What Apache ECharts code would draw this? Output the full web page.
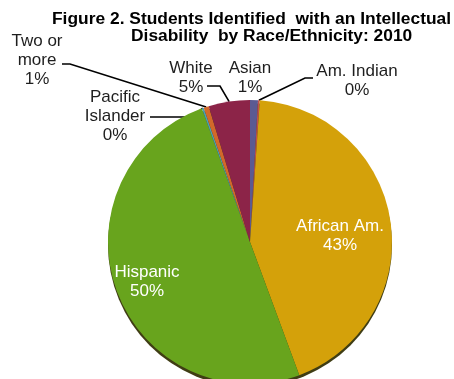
<!DOCTYPE html>
<html>
<head>
<meta charset="utf-8">
<script src="https://cdn.jsdelivr.net/npm/echarts@6/dist/echarts.min.js"></script>
<style>
  html, body { margin: 0; padding: 0; background: #ffffff; }
  #chart { width: 454px; height: 379px; }
</style>
</head>
<body>
<div id="chart"></div>
<script>
// Share of students identified with an intellectual disability, by race/ethnicity (2010)
const categories = ['Asian', 'Am. Indian', 'African Am.', 'Hispanic', 'Pacific Islander', 'Two or more', 'White'];
const shares = [0.9, 0.2, 43.3, 50.2, 0.2, 0.6, 4.7];
const titleLines = [
  'Figure 2. Students Identified  with an Intellectual',
  'Disability  by Race/Ethnicity: 2010'
];

// Styling
const FONT = '"Liberation Sans", Arial, Helvetica, sans-serif';
const sliceColors = {
  'Asian': '#5b5a92',
  'Am. Indian': '#c0504d',
  'African Am.': '#d4a10a',
  'Hispanic': '#68a41d',
  'Pacific Islander': '#4a9fb5',
  'Two or more': '#d2692a',
  'White': '#8c2448'
};
const labelText = {
  'Pacific Islander': 'Pacific\nIslander',
  'Two or more': 'Two or\nmore'
};
const insideLabels = ['African Am.', 'Hispanic'];
// Label anchor points plus the bend / end of each leader line
const labelSpots = {
  'Asian':            { x: 250, y: 78 },
  'Am. Indian':       { x: 357, y: 81,  line: [[305, 78], [313, 78]] },
  'African Am.':      { x: 340, y: 236 },
  'Hispanic':         { x: 147, y: 282 },
  'Pacific Islander': { x: 115, y: 116, line: [[192, 117], [150, 117]] },
  'Two or more':      { x: 37,  y: 60,  line: [[70, 64], [62, 64]] },
  'White':            { x: 191, y: 78,  line: [[220, 86], [207, 86]] }
};

const PIE_CENTER = [250, 242];
const PIE_RADIUS = 142;
const total = shares.reduce((a, b) => a + b, 0);

const sliceData = categories.map((name, i) => {
  const inside = insideLabels.includes(name);
  return {
    name: name,
    value: shares[i],
    itemStyle: { color: sliceColors[name] },
    label: inside
      ? { position: 'inside', color: '#ffffff' }
      : { position: 'outside', color: '#1e1e1e' },
    labelLine: { show: !!labelSpots[name].line }
  };
});

const chart = echarts.init(document.getElementById('chart'), null, { renderer: 'canvas' });

chart.setOption({
  animation: false,
  backgroundColor: '#ffffff',
  title: [
    {
      text: titleLines[0], left: 52, top: 10, padding: 0,
      textStyle: { fontFamily: FONT, fontSize: 17.4, fontWeight: 'bold', color: '#000000', lineHeight: 18 }
    },
    {
      text: titleLines[1], left: 131, top: 27, padding: 0,
      textStyle: { fontFamily: FONT, fontSize: 17.4, fontWeight: 'bold', color: '#000000', lineHeight: 18 }
    }
  ],
  series: [
    {
      // dark rim under the disc
      type: 'pie',
      silent: true,
      center: [PIE_CENTER[0], PIE_CENTER[1] + 3],
      radius: PIE_RADIUS,
      label: { show: false },
      labelLine: { show: false },
      itemStyle: { color: '#3f3d14', borderWidth: 0 },
      data: [{ name: 'rim', value: total }],
      z: 1
    },
    {
      type: 'pie',
      center: PIE_CENTER,
      radius: PIE_RADIUS,
      startAngle: 90,
      clockwise: true,
      avoidLabelOverlap: false,
      minAngle: 0,
      itemStyle: { borderWidth: 0 },
      label: {
        show: true,
        fontFamily: FONT,
        fontSize: 17,
        lineHeight: 19,
        align: 'center',
        formatter: p => (labelText[p.name] || p.name) + '\n' + Math.round(p.percent) + '%'
      },
      labelLine: {
        show: true,
        smooth: false,
        lineStyle: { color: '#000000', width: 1.6 }
      },
      labelLayout: p => {
        const name = categories[p.dataIndex];
        const spot = labelSpots[name];
        const out = { x: spot.x, y: spot.y, align: 'center', verticalAlign: 'middle' };
        if (spot.line && p.labelLinePoints) {
          out.labelLinePoints = [p.labelLinePoints[0], spot.line[0], spot.line[1]];
        }
        return out;
      },
      data: sliceData,
      z: 2
    }
  ]
});
</script>
</body>
</html>
